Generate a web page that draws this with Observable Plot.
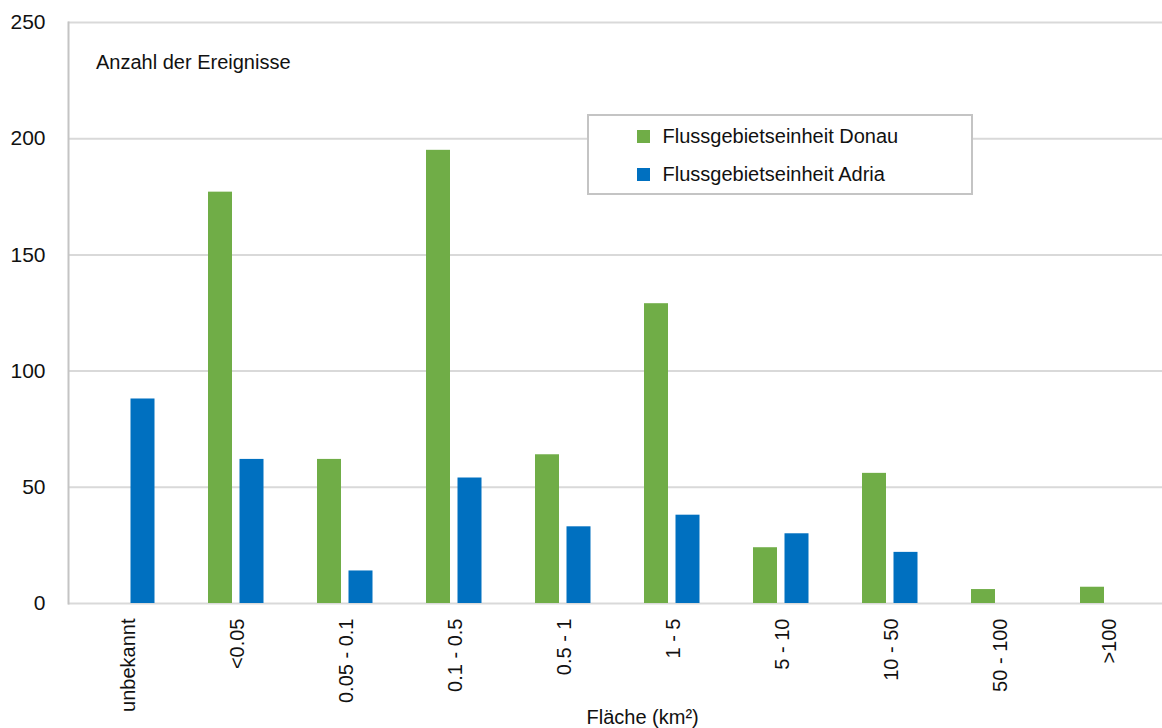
<!DOCTYPE html>
<html>
<head>
<meta charset="utf-8">
<script src="https://cdn.jsdelivr.net/npm/d3@7"></script>
<script src="https://cdn.jsdelivr.net/npm/@observablehq/plot@0.6"></script>
<style>
  html, body { margin: 0; padding: 0; background: #fff; }
  #wrap { position: relative; width: 1162px; height: 728px; font-family: "Liberation Sans", Arial, sans-serif; color: #111; }
  .t { position: absolute; font-size: 20px; line-height: 1; white-space: nowrap; }
  #legend { position: absolute; left: 587px; top: 114px; width: 386px; height: 81px; box-sizing: border-box; border: 2px solid #c4c4c4; background: #fff; }
  .sw { position: absolute; width: 13px; height: 13px; }
</style>
</head>
<body>
<div id="wrap"></div>
<script>
const categories = ["unbekannt", "<0.05", "0.05 - 0.1", "0.1 - 0.5", "0.5 - 1", "1 - 5", "5 - 10", "10 - 50", "50 - 100", ">100"];
const donau = [0, 177, 62, 195, 64, 129, 24, 56, 6, 7];
const adria = [88, 62, 14, 54, 33, 38, 30, 22, 0, 0];
const yTicks = [0, 50, 100, 150, 200, 250];
const seriesNames = ["Flussgebietseinheit Donau", "Flussgebietseinheit Adria"];
const seriesColors = ["#70ad47", "#0070c0"];
const yTitle = "Anzahl der Ereignisse";
const xTitle = "Fläche (km²)";

const rows = categories.map((c, i) => ({cat: c, donau: donau[i], adria: adria[i]}));

const chart = Plot.plot({
  width: 1162,
  height: 728,
  marginLeft: 68,
  marginRight: 0,
  marginTop: 22,
  marginBottom: 125,
  style: {fontFamily: "'Liberation Sans', Arial, sans-serif", color: "#111", background: "transparent"},
  x: {domain: categories, padding: 0},
  y: {domain: [0, 250]},
  marks: [
    Plot.gridY(yTicks, {stroke: "#d9d9d9", strokeOpacity: 1, strokeWidth: 2}),
    Plot.frame({anchor: "left", stroke: "#c4c4c4", strokeWidth: 2}),
    Plot.barY(rows, {x: "cat", y: "donau", fill: seriesColors[0], insetLeft: 29, insetRight: 56}),
    Plot.barY(rows, {x: "cat", y: "adria", fill: seriesColors[1], insetLeft: 60.5, insetRight: 24.5}),
    Plot.axisY(yTicks, {tickSize: 0, tickPadding: 23, fontSize: 21, label: null}),
    Plot.axisX({tickRotate: -90, tickSize: 0, tickPadding: 15, fontSize: 20, label: null, dx: 4})
  ]
});

const wrap = document.getElementById("wrap");
wrap.appendChild(chart);

function addText(txt, left, top) {
  const d = document.createElement("div");
  d.className = "t";
  d.textContent = txt;
  d.style.left = left + "px";
  d.style.top = top + "px";
  wrap.appendChild(d);
  return d;
}
addText(yTitle, 96, 51.5);
addText(xTitle, 586.5, 706.5);

const legend = document.createElement("div");
legend.id = "legend";
wrap.appendChild(legend);
const legendRows = [{sw: 129.5, tx: 125.8}, {sw: 168.3, tx: 164}];
seriesNames.forEach((name, i) => {
  const s = document.createElement("div");
  s.className = "sw";
  s.style.background = seriesColors[i];
  s.style.left = "637px";
  s.style.top = legendRows[i].sw + "px";
  wrap.appendChild(s);
  addText(name, 662.5, legendRows[i].tx);
});
</script>
</body>
</html>
